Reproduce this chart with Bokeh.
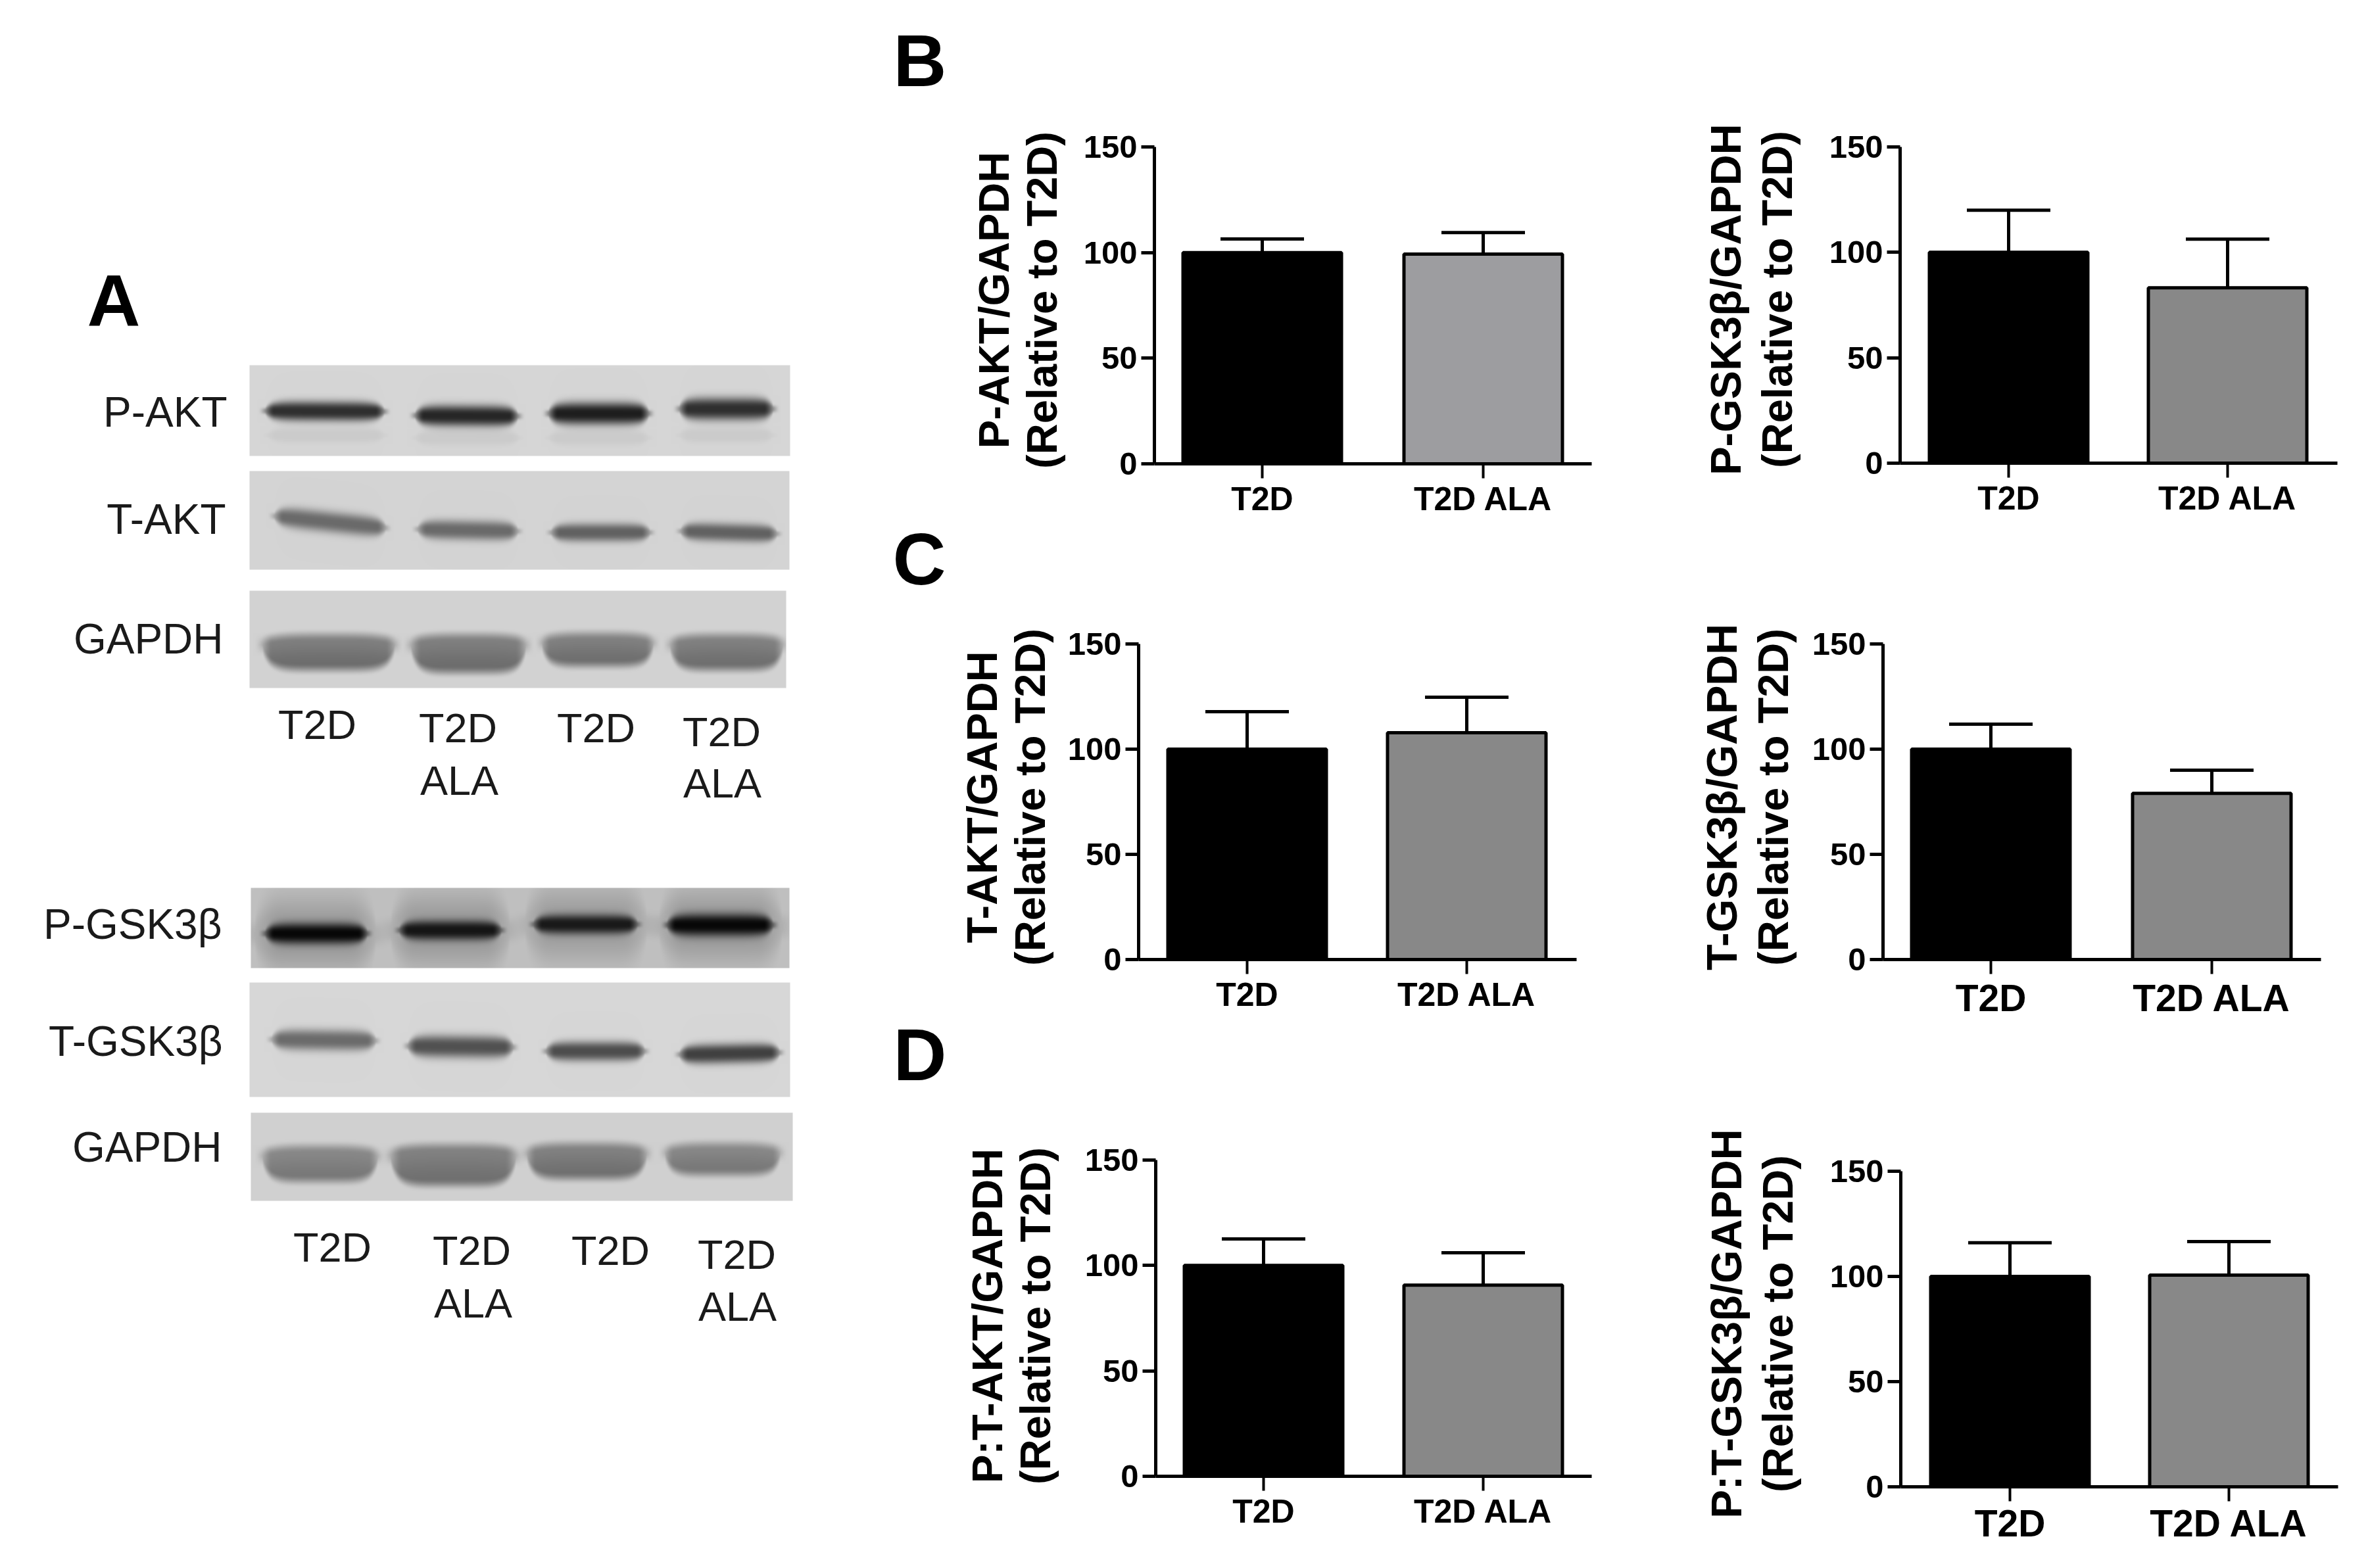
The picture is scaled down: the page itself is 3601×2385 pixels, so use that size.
import numpy as np
from bokeh.embed import file_html
from bokeh.resources import INLINE
from bokeh.plotting import figure
from bokeh.layouts import row, column
from bokeh.models import Range1d, FixedTicker
from bokeh.core.properties import value

# ---------- data ----------
categories = ["T2D", "T2D ALA"]
y_ticks = [0, 50, 100, 150]

p_akt_mean = [100.0, 99.3]
p_akt_upper = [106.4, 109.5]
p_gsk_mean = [100.0, 83.2]
p_gsk_upper = [120.0, 106.3]
t_akt_mean = [100.0, 107.8]
t_akt_upper = [117.8, 124.7]
t_gsk_mean = [100.0, 79.0]
t_gsk_upper = [111.9, 90.0]
pt_akt_mean = [100.0, 90.7]
pt_akt_upper = [112.6, 106.0]
pt_gsk_mean = [100.0, 100.6]
pt_gsk_upper = [116.0, 116.6]

# western blot labels
blot_labels = ["P-AKT", "T-AKT", "GAPDH", "P-GSK3\u03b2", "T-GSK3\u03b2", "GAPDH"]
lane_labels = ["T2D", "T2D", "T2D", "T2D", "ALA", "ALA"] * 2
panel_letters = ["A", "B", "C", "D"]

# ---------- layout, in reference pixels ----------
FONT = "Liberation Sans"
W, H = 3601, 2385
CELL_X = [(0, 1440), (1440, 2560), (2560, 3593)]
CELL_Y = [(0, 800), (800, 1555), (1555, 2377)]

# gel rectangles: left, right, top, bottom, background grey
gels = [
    (379, 1201, 555, 693, 214),
    (379, 1200, 716, 866, 212),
    (379, 1195, 898, 1046, 210),
    (381, 1200, 1350, 1472, 192),
    (379, 1201, 1494, 1668, 215),
    (381, 1205, 1692, 1826, 208),
]
# bands per gel: left, right, y at left, y at right, half thickness, darkness, bowl(0/1)
gel_bands = [
    [(401, 585, 624, 625, 15, .78, 0), (629, 788, 631, 632, 16, .82, 0), (832, 987, 628, 628, 17, .86, 0), (1031, 1176, 621, 621, 17, .78, 0),
     (405, 585, 661, 661, 12, .05, 0), (629, 790, 665, 665, 12, .05, 0), (832, 987, 665, 665, 12, .05, 0), (1031, 1176, 661, 661, 12, .05, 0)],
    [(415, 587, 784, 802, 16, .50, 0), (633, 788, 804, 807, 15, .50, 0), (836, 989, 809, 809, 14, .54, 0), (1033, 1182, 807, 811, 14, .54, 0)],
    [(396, 602, 970, 970, 24, .48, 1), (622, 801, 970, 970, 26, .48, 1), (821, 995, 968, 968, 22, .47, 1), (1016, 1192, 970, 970, 24, .47, 1)],
    [(385, 572, 1420, 1420, 55, .20, 0), (592, 776, 1414, 1414, 55, .20, 0), (796, 984, 1406, 1406, 55, .18, 0), (1000, 1190, 1408, 1408, 55, .20, 0),
     (401, 559, 1419, 1419, 16, .95, 0), (605, 763, 1414, 1414, 15, .86, 0), (809, 970, 1405, 1405, 15, .84, 0), (1012, 1176, 1406, 1406, 17, .95, 0)],
    [(411, 572, 1580, 1582, 16, .50, 0), (618, 781, 1590, 1592, 17, .62, 0), (828, 981, 1598, 1598, 15, .64, 0), (1031, 1186, 1603, 1600, 15, .70, 0)],
    [(396, 576, 1748, 1748, 24, .42, 1), (591, 786, 1746, 1746, 28, .46, 1), (798, 985, 1744, 1744, 24, .46, 1), (1008, 1188, 1744, 1744, 21, .42, 1)],
]
# label right edge and vertical centre
blot_label_x = [345, 343, 339, 337, 338, 337]
blot_label_y = [626, 789, 971, 1405, 1583, 1744]
# lane label centres
lane_x = [482, 696, 906, 1097, 698, 1098, 505, 717, 928, 1120, 719, 1121]
lane_y = [1101, 1106, 1106, 1112, 1186, 1190, 1896, 1901, 1901, 1907, 1981, 1986]
letter_x = [132, 1358, 1357, 1358]
letter_y = [457, 92, 850, 1604]

GREY_A = "#9d9da0"
GREY = "#888888"
panels = [
    dict(cell=(1, 0), title="P-AKT/GAPDH\n(Relative to T2D)", m=p_akt_mean, u=p_akt_upper, ax=1755, xe=2420, t150=223, t0=705, ttl=456,
         ticks=(1919, 2255), col=GREY_A, lfs=50, standoff=24, lh=0.99, xso=3),
    dict(cell=(2, 0), title="P-GSK3\u03b2/GAPDH\n(Relative to T2D)", m=p_gsk_mean, u=p_gsk_upper, ax=2889, xe=3554, t150=223, t0=704, ttl=455,
         ticks=(3054, 3387), col=GREY, lfs=50, standoff=40, lh=1.07, xso=3),
    dict(cell=(1, 1), title="T-AKT/GAPDH\n(Relative to T2D)", m=t_akt_mean, u=t_akt_upper, ax=1731, xe=2397, t150=979, t0=1459, ttl=1212,
         ticks=(1896, 2230), col=GREY, lfs=50, standoff=18, lh=0.99, xso=3),
    dict(cell=(2, 1), title="T-GSK3\u03b2/GAPDH\n(Relative to T2D)", m=t_gsk_mean, u=t_gsk_upper, ax=2863, xe=3529, t150=979, t0=1459, ttl=1212,
         ticks=(3027, 3363), col=GREY, lfs=57, standoff=20, lh=1.07, xso=4),
    dict(cell=(1, 2), title="P:T-AKT/GAPDH\n(Relative to T2D)", m=pt_akt_mean, u=pt_akt_upper, ax=1757, xe=2420, t150=1764, t0=2245, ttl=2001,
         ticks=(1921, 2255), col=GREY, lfs=50, standoff=36, lh=0.99, xso=3),
    dict(cell=(2, 2), title="P:T-GSK3\u03b2/GAPDH\n(Relative to T2D)", m=pt_gsk_mean, u=pt_gsk_upper, ax=2890, xe=3555, t150=1781, t0=2261, ttl=2013,
         ticks=(3056, 3389), col=GREY, lfs=57, standoff=40, lh=1.07, xso=1),
]
BAR_PX, CAP_PX = 241, 127


def smooth(t):
    t = np.clip(t, 0, 1)
    return t * t * (3 - 2 * t)


def gel_image(gel, bands):
    l, r, t, b, bg = gel
    xs, ys = np.meshgrid(np.arange(l, r), np.arange(t, b))
    light = np.ones(xs.shape, dtype=float)
    for (bl, br, yl, yr, ht, dark, bowl) in bands:
        u = (xs - bl) / (br - bl)
        yc = yl + (yr - yl) * u
        v = np.clip(2 * u - 1, -1, 1)
        edge = np.sqrt(np.clip(1 - np.abs(v) ** 6, 0.02, 1))
        feather = max(26.0, ht * 1.2)
        hor = smooth((xs - bl + feather * .4) / feather) * smooth((br - xs + feather * .4) / feather)
        if bowl:
            top = yc - 6 + 8 * v ** 4
            bot = yc + 2 * ht * np.clip(edge, .35, 1)
            s = 20.0
            soft = smooth((ys - top + s / 2) / s) * smooth((bot - ys + s / 2) / s)
            core = dark * soft * hor * (0.80 + 0.20 * smooth((ys - top) / (2 * ht)))
        else:
            dy = np.abs(ys - yc) / (ht * np.clip(edge, .3, 1))
            core = dark * np.exp(-dy ** 2.6) * hor
        light *= 1 - core
    g = np.clip(bg * light, 0, 255).astype(np.uint32)
    a = g | (g << 8) | (g << 16) | (255 << 24)
    return np.flipud(a)


def blank(fig):
    fig.grid.visible = False
    fig.outline_line_color = None
    fig.background_fill_color = None
    fig.border_fill_color = None


# ---------- left-hand figure with the blots and the panel letters ----------
cx0, cx1 = CELL_X[0]
cy0, cy1 = CELL_Y[0][0], CELL_Y[2][1]
gel_fig = figure(width=cx1 - cx0, height=cy1 - cy0, output_backend="svg", toolbar_location=None,
                 x_range=Range1d(cx0, cx1), y_range=Range1d(H - cy1, H - cy0), frame_align=False,
                 min_border_left=0, min_border_right=0, min_border_top=0, min_border_bottom=0)
blank(gel_fig)
gel_fig.axis.visible = False

for gel, bands in zip(gels, gel_bands):
    arr = gel_image(gel, bands)
    l, r, t, b, _ = gel
    gel_fig.image_rgba(image=[arr], x=l, y=H - b, dw=r - l, dh=b - t)

gel_fig.text(x=blot_label_x, y=[H - v for v in blot_label_y], text=blot_labels,
             text_font=value(FONT), text_font_size="64px", text_align="right", text_baseline="middle", text_color="#1a1a1a")
gel_fig.text(x=lane_x, y=[H - v for v in lane_y], text=lane_labels,
             text_font=value(FONT), text_font_size="63px", text_align="center", text_baseline="middle", text_color="#1a1a1a")
gel_fig.text(x=letter_x, y=[H - v for v in letter_y], text=panel_letters, text_font=value(FONT), text_font_style="bold",
             text_font_size="112px", text_align="left", text_baseline="middle", text_color="black")


# ---------- bar chart panels ----------
def chart(pn):
    cx = CELL_X[pn["cell"][0]]
    cy = CELL_Y[pn["cell"][1]]
    t1, t2 = pn["ticks"]
    step = t2 - t1
    x_start = (pn["ax"] - t1) / step
    x_end = (pn["xe"] - t1) / step
    px150 = pn["t0"] - pn["t150"]
    frame_top = 2 * pn["ttl"] - pn["t0"]
    y_end = 150 * (pn["t0"] - frame_top) / px150
    f = figure(width=cx[1] - cx[0], height=cy[1] - cy[0], output_backend="svg", toolbar_location=None,
               x_range=Range1d(x_start, x_end), y_range=Range1d(0, y_end), frame_align=False,
               min_border_left=pn["ax"] - cx[0], min_border_right=cx[1] - pn["xe"],
               min_border_top=frame_top - cy[0], min_border_bottom=cy[1] - pn["t0"])
    blank(f)
    xs = list(range(len(categories)))
    cap = CAP_PX / step / 2
    f.segment(x0=xs, y0=pn["m"], x1=xs, y1=pn["u"], line_color="black", line_width=5)
    f.segment(x0=[x - cap for x in xs], y0=pn["u"], x1=[x + cap for x in xs], y1=pn["u"], line_color="black", line_width=5)
    f.vbar(x=xs, width=BAR_PX / step, bottom=0, top=pn["m"], fill_color=["black", pn["col"]], line_color="black", line_width=5)

    ya = f.yaxis[0]
    ya.ticker = FixedTicker(ticks=y_ticks)
    ya.bounds = (0, 150)
    ya.axis_label = pn["title"]
    ya.axis_label_text_font = FONT
    ya.axis_label_text_font_style = "bold"
    ya.axis_label_text_font_size = "65px"
    ya.axis_label_text_line_height = pn["lh"]
    ya.axis_label_text_color = "black"
    ya.axis_label_standoff = pn["standoff"]
    ya.major_label_text_font = FONT
    ya.major_label_text_font_style = "bold"
    ya.major_label_text_font_size = "49px"
    ya.major_label_text_color = "black"
    ya.major_label_standoff = 6
    ya.axis_line_width = 5
    ya.axis_line_color = "black"
    ya.major_tick_line_width = 5
    ya.major_tick_line_color = "black"
    ya.major_tick_in = 0
    ya.major_tick_out = 20
    ya.minor_tick_line_color = None

    xa = f.xaxis[0]
    xa.ticker = FixedTicker(ticks=xs)
    xa.major_label_overrides = {i: c for i, c in enumerate(categories)}
    xa.major_label_text_font = FONT
    xa.major_label_text_font_style = "bold"
    xa.major_label_text_font_size = f"{pn['lfs']}px"
    xa.major_label_text_color = "black"
    xa.major_label_standoff = pn["xso"]
    xa.axis_line_width = 5
    xa.axis_line_color = "black"
    xa.major_tick_line_width = 4
    xa.major_tick_line_color = "black"
    xa.major_tick_in = 0
    xa.major_tick_out = 22
    xa.minor_tick_line_color = None
    return f


figs = [chart(p) for p in panels]
right = column(row(figs[0], figs[1]), row(figs[2], figs[3]), row(figs[4], figs[5]))
page = row(gel_fig, right)
open("out.html", "w").write(file_html(page, INLINE))
